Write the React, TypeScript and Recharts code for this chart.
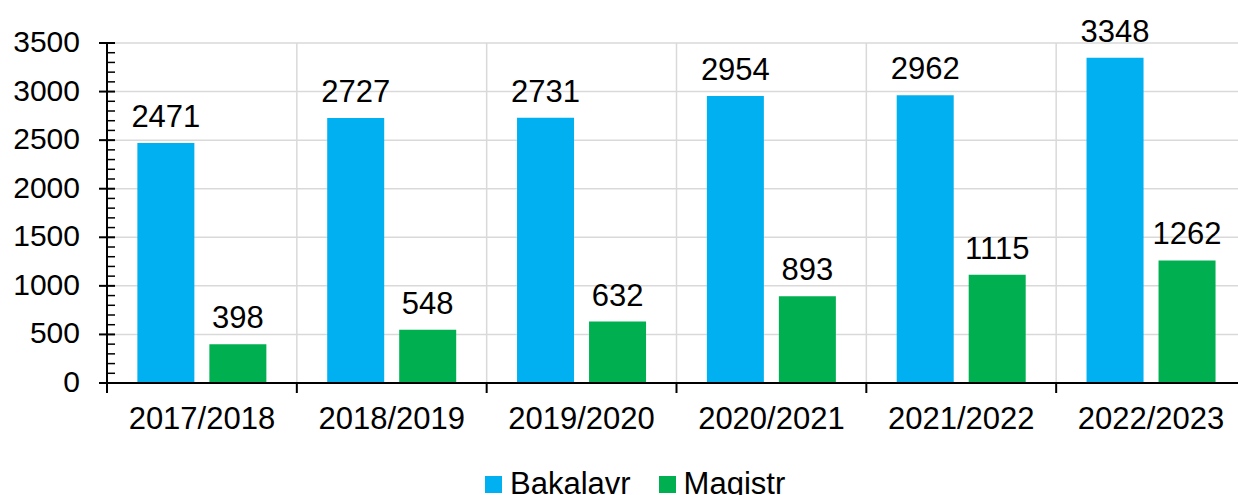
import { BarChart, Bar, XAxis, YAxis, CartesianGrid, Legend, LabelList } from "recharts";

const CATEGORIES = ["2017/2018", "2018/2019", "2019/2020", "2020/2021", "2021/2022", "2022/2023"];
const BAKALAVR = [2471, 2727, 2731, 2954, 2962, 3348];
const MAGISTR = [398, 548, 632, 893, 1115, 1262];
const Y_MAJOR = [0, 500, 1000, 1500, 2000, 2500, 3000, 3500];
const MINOR_STEP = 100;

const FONT = '"Liberation Sans", Arial, sans-serif';
const BLUE = "#00B0F0";
const GREEN = "#00B050";

const data = CATEGORIES.map((year, i) => ({
    year,
    Bakalavr: BAKALAVR[i],
    Magistr: MAGISTR[i],
}));

// every 100 for the small inner ticks, labels only on the 500s
const yTicks: number[] = [];
for (let v = 0; v <= Y_MAJOR[Y_MAJOR.length - 1]; v += MINOR_STEP) yTicks.push(v);

const YTick = (props: any) => {
    const { x, y, payload } = props;
    const v = payload.value;
    const major = Y_MAJOR.includes(v);
    return (
        <g>
            {major ? (
                <line x1={x - 8} x2={x + 8} y1={y} y2={y} stroke="#000" strokeWidth={2} />
            ) : (
                <line x1={x} x2={x + 8} y1={y} y2={y} stroke="#000" strokeWidth={1.5} />
            )}
            {major && (
                <text
                    x={x - 27}
                    y={y}
                    dy={9}
                    textAnchor="end"
                    fontSize={30}
                    fontFamily={FONT}
                    fill="#000"
                >
                    {v}
                </text>
            )}
        </g>
    );
};

const XTick = (props: any) => {
    const { x, y, payload, index, width } = props;
    const band = width / CATEGORIES.length;
    const left = x - band / 2;
    return (
        <g>
            <line x1={left} x2={left} y1={y} y2={y + 10} stroke="#000" strokeWidth={2} />
            {index === CATEGORIES.length - 1 && (
                <line x1={left + band} x2={left + band} y1={y} y2={y + 10} stroke="#000" strokeWidth={2} />
            )}
            <text
                x={x}
                y={y}
                dy={46}
                textAnchor="middle"
                fontSize={31}
                fontFamily={FONT}
                fill="#000"
            >
                {payload.value}
            </text>
        </g>
    );
};

const LegendContent = (props: any) => {
    const { payload } = props;
    return (
        <div
            style={{
                display: "flex",
                paddingLeft: 485,
                height: 34,
                lineHeight: "34px",
                fontFamily: FONT,
                fontSize: 31,
                color: "#000",
            }}
        >
            {(payload || []).map((p: any, i: number) => (
                <div
                    key={`leg-${i}`}
                    style={{ display: "flex", alignItems: "center", marginRight: 28 }}
                >
                    <span
                        style={{
                            display: "inline-block",
                            width: 17,
                            height: 17,
                            background: p.color,
                            marginRight: 8,
                        }}
                    />
                    <span>{p.value}</span>
                </div>
            ))}
        </div>
    );
};

export default function App() {
    return (
        <div
            style={{
                position: "absolute",
                left: 0,
                top: 0,
                width: 1238,
                height: 495,
                overflow: "hidden",
                background: "#fff",
            }}
        >
            <BarChart
                width={1248}
                height={495}
                data={data}
                margin={{ top: 43, right: 2, left: 0, bottom: -6 }}
                barCategoryGap="16%"
                barGap={15}
            >
                <CartesianGrid
                    stroke="#d9d9d9"
                    strokeWidth={1.5}
                    horizontalValues={Y_MAJOR}
                    verticalCoordinatesGenerator={({ offset }: any) =>
                        CATEGORIES.map((_, i) => offset.left + (i * offset.width) / CATEGORIES.length).concat(
                            offset.left + offset.width
                        )
                    }
                />
                <XAxis
                    dataKey="year"
                    height={84}
                    tickSize={0}
                    tickMargin={0}
                    tickLine={false}
                    axisLine={{ stroke: "#000", strokeWidth: 2 }}
                    tick={<XTick />}
                    interval={0}
                />
                <YAxis
                    width={107}
                    domain={[0, 3500]}
                    ticks={yTicks}
                    interval={0}
                    tickSize={0}
                    tickMargin={0}
                    tickLine={false}
                    axisLine={{ stroke: "#000", strokeWidth: 2 }}
                    tick={<YTick />}
                />
                <Legend verticalAlign="bottom" content={<LegendContent />} />
                <Bar dataKey="Bakalavr" fill={BLUE} isAnimationActive={false}>
                    <LabelList
                        dataKey="Bakalavr"
                        position="top"
                        offset={16}
                        fill="#000"
                        fontSize={31}
                        fontFamily={FONT}
                    />
                </Bar>
                <Bar dataKey="Magistr" fill={GREEN} isAnimationActive={false}>
                    <LabelList
                        dataKey="Magistr"
                        position="top"
                        offset={16}
                        fill="#000"
                        fontSize={31}
                        fontFamily={FONT}
                    />
                </Bar>
            </BarChart>
        </div>
    );
}
